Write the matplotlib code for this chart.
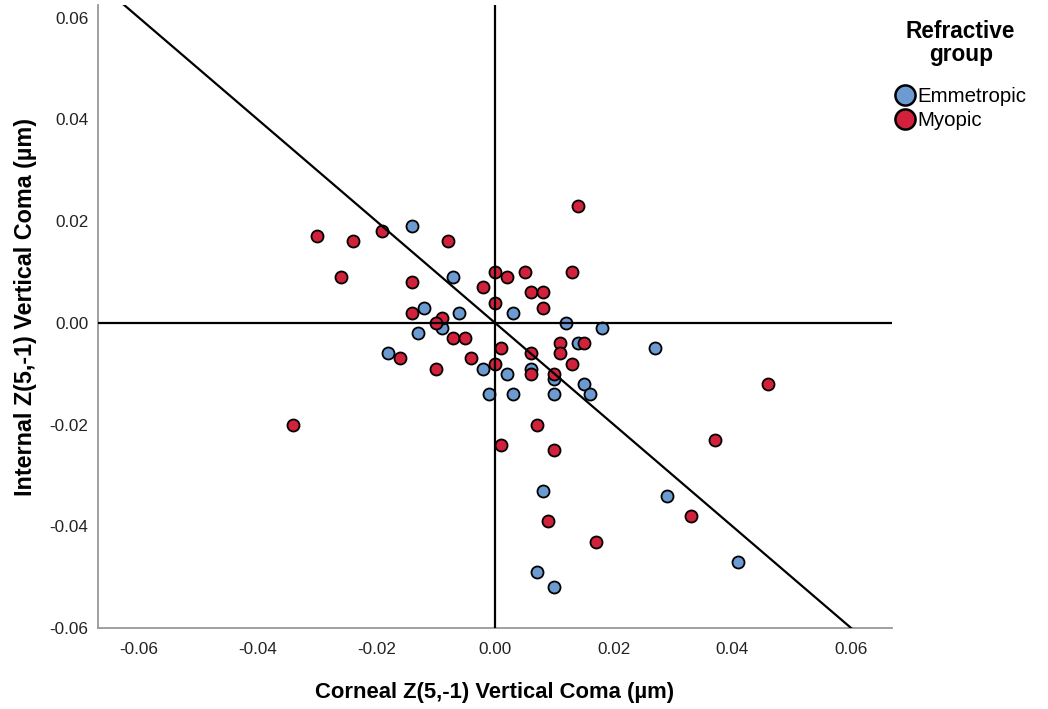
import matplotlib
matplotlib.use("Agg")
import matplotlib.pyplot as plt
from matplotlib.lines import Line2D

plt.rcParams['font.family'] = ['Liberation Sans', 'DejaVu Sans']

# Corneal (x) vs internal (y) vertical coma, in micrometres
emmetropic_x = [-0.014, -0.007, -0.012, -0.006, 0.003, -0.009, -0.013, 0.012, 0.018,
                -0.018, -0.002, 0.002, -0.001, 0.003, 0.014, 0.027, 0.006, 0.010,
                0.015, 0.016, 0.010, 0.008, 0.029, 0.041, 0.007, 0.010]
emmetropic_y = [0.019, 0.009, 0.003, 0.002, 0.002, -0.001, -0.002, 0.000, -0.001,
                -0.006, -0.009, -0.010, -0.014, -0.014, -0.004, -0.005, -0.009, -0.011,
                -0.012, -0.014, -0.014, -0.033, -0.034, -0.047, -0.049, -0.052]

myopic_x = [-0.030, -0.024, -0.019, -0.008, -0.026, -0.014, -0.002, 0.000, 0.002,
            0.000, -0.014, -0.009, -0.010, -0.007, -0.005, 0.014, 0.005, 0.013,
            0.006, 0.008, 0.008, 0.001, -0.016, -0.004, -0.010, 0.000, -0.034,
            0.001, 0.011, 0.011, 0.015, 0.006, 0.013, 0.006, 0.010, 0.007,
            0.010, 0.037, 0.033, 0.009, 0.017, 0.046]
myopic_y = [0.017, 0.016, 0.018, 0.016, 0.009, 0.008, 0.007, 0.010, 0.009,
            0.004, 0.002, 0.001, 0.000, -0.003, -0.003, 0.023, 0.010, 0.010,
            0.006, 0.006, 0.003, -0.005, -0.007, -0.007, -0.009, -0.008, -0.020,
            -0.024, -0.004, -0.006, -0.004, -0.006, -0.008, -0.010, -0.010, -0.020,
            -0.025, -0.023, -0.038, -0.039, -0.043, -0.012]

groups = ["Emmetropic", "Myopic"]
group_colors = ["#6C9BD2", "#D2213A"]

x_ticks = [-0.06, -0.04, -0.02, 0.00, 0.02, 0.04, 0.06]
y_ticks = [-0.06, -0.04, -0.02, 0.00, 0.02, 0.04, 0.06]
x_limits = (-0.0669, 0.0669)
y_limits = (-0.060, 0.0625)

fig = plt.figure(figsize=(10.48, 7.09), dpi=100)
ax = fig.add_axes([0.0935, 0.1142, 0.7577, 0.8788])

ax.scatter(emmetropic_x, emmetropic_y, s=75, c=group_colors[0], edgecolors='black',
           linewidths=1.3, zorder=3)
ax.scatter(myopic_x, myopic_y, s=75, c=group_colors[1], edgecolors='black',
           linewidths=1.3, zorder=3)

# Reference lines: axes through the origin and the line y = -x
ax.axhline(0, color='black', lw=1.6, zorder=4)
ax.axvline(0, color='black', lw=1.6, zorder=4)
ax.plot([-0.07, 0.07], [0.07, -0.07], color='black', lw=1.6, zorder=4)

ax.set_xlim(*x_limits)
ax.set_ylim(*y_limits)
ax.set_xticks(x_ticks)
ax.set_yticks(y_ticks)
ax.set_xticklabels([f"{v:.2f}" for v in x_ticks], fontsize=12.3, color='#222222')
ax.set_yticklabels([f"{v:.2f}" for v in y_ticks], fontsize=12.3, color='#222222')
ax.tick_params(axis='x', length=0, pad=10)
ax.tick_params(axis='y', length=0, pad=7)

for side in ['top', 'right']:
    ax.spines[side].set_visible(False)
for side in ['left', 'bottom']:
    ax.spines[side].set_color('#999999')
    ax.spines[side].set_linewidth(1.3)

ax.set_xlabel("Corneal Z(5,-1) Vertical Coma (µm)", fontsize=15.8, fontweight='bold',
              labelpad=18)
ax.set_ylabel("Internal Z(5,-1) Vertical Coma (µm)", fontsize=16.8, fontweight='bold',
              labelpad=9, y=0.515)

handles = [Line2D([0], [0], marker='o', linestyle='none', markersize=14.5,
                  markerfacecolor=c, markeredgecolor='black', markeredgewidth=1.8)
           for c in group_colors]
leg = ax.legend(handles, groups, title="Refractive\ngroup", loc='upper left',
                bbox_to_anchor=(0.988, 0.995), frameon=False, fontsize=14.8,
                title_fontproperties={'weight': 'bold', 'size': 16.3},
                handletextpad=0.1, labelspacing=0.25, borderaxespad=0.2,
                handlelength=1.0)
leg.get_title().set_multialignment('center')
leg.get_title().set_linespacing(1.0)
leg._legend_box.align = "center"
leg._legend_box.sep = 15

fig.savefig("out.png", dpi=100)
